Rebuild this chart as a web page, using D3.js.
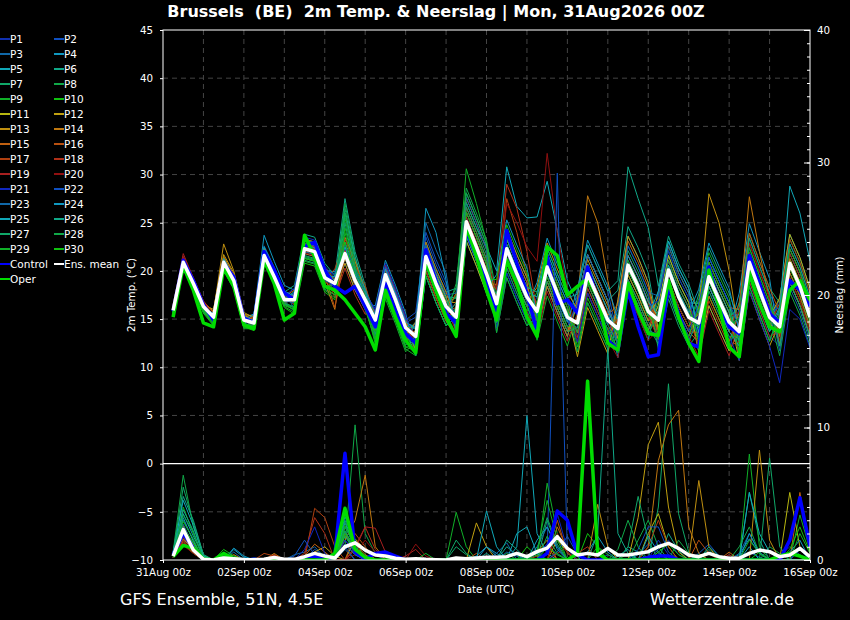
<!DOCTYPE html>
<html>
<head>
<meta charset="utf-8">
<script src="https://cdn.jsdelivr.net/npm/d3@7"></script>
<style>
  body { margin: 0; background: #000; }
  text { font-family: "DejaVu Sans", sans-serif; fill: #fff; }
</style>
</head>
<body>
<div id="chart"></div>
<script>
// ---- data (6-hourly, 31Aug 06z .. 16Sep 00z, 64 steps) ----
const memberNames = d3.range(1, 31).map(i => "P" + i);
const memberColors = [
  "#1030b0","#1050c0","#1068a8","#1098c0","#10a8b8","#10a888","#10a868","#10a848","#10b028","#10c010",
  "#b8b810","#c0a010","#c09010","#c07810","#c06010","#b85010","#b04010","#b03018","#a82020","#901010",
  "#1028c0","#1050c0","#1068a8","#1098c0","#10a8b8","#10a888","#10a868","#10a848","#10b028","#10c010"
];

const meanTemp = [15.9,20.9,18.7,16.3, 15.2,20.9,19.0,14.9, 14.6,21.6,19.4,17.0, 17.0,22.3,22.0,19.3, 18.7,21.8,19.0,17.0, 14.9,19.6,17.0,14.1, 13.2,21.5,18.7,16.3, 15.2,25.1,22.5,19.7, 16.6,22.3,19.7,17.3, 15.8,20.4,17.7,15.2, 14.6,19.7,17.3,14.9, 14.0,20.6,18.4,15.8, 14.9,20.1,17.3,15.2, 14.6,19.4,17.0,14.7, 13.7,20.9,18.0,15.2, 14.2,20.8,18.4,15.2];
const controlTemp = [15.8,21.1,19.0,16.5, 14.9,20.8,19.4,15.1, 14.6,22.0,20.1,17.7, 17.0,22.5,23.0,20.1, 18.4,17.7,18.4,16.3, 14.2,18.7,15.9,13.5, 12.5,22.2,19.0,15.6, 14.6,24.2,21.5,19.0, 15.9,24.2,20.8,17.7, 13.7,21.5,16.6,17.0, 15.6,20.4,17.0,12.8, 11.8,18.0,14.2,11.1, 11.3,18.4,15.6,12.5, 12.1,20.4,16.6,14.2, 13.5,21.6,18.7,15.6, 14.6,19.0,18.0,16.3];
const operTemp = [15.2,20.5,18.0,14.6, 14.2,20.3,18.4,14.4, 14.0,21.1,18.7,14.9, 15.6,23.7,21.5,18.4, 18.0,17.0,15.6,14.2, 11.8,18.0,15.2,12.8, 11.5,21.1,18.0,15.2, 13.2,24.6,21.5,18.0, 14.9,21.1,18.7,15.2, 13.2,22.5,21.6,17.5, 18.4,19.2,17.3,12.5, 11.8,18.7,15.9,13.5, 13.3,19.0,15.2,12.5, 10.6,20.1,16.3,12.1, 11.1,19.8,16.6,14.2, 13.7,18.0,19.0,17.0];

const memberTemp = [
  [16.1,21.1,18.9,16.5, 14.9,20.6,18.7,14.6, 15.1,22.1,19.9,17.5, 16.5,21.8,21.5,18.8, 19.5,22.6,19.8,17.8, 15.9,20.6,18.0,15.1, 12.2,20.5,17.7,15.3, 15.7,25.6,23.0,20.2, 14.6,20.3,17.7,15.3, 17.3,21.9,19.2,16.7, 13.1,18.2,15.8,13.4, 16.0,22.6,20.4,17.8, 12.4,17.6,14.8,12.7, 15.6,20.4,18.0,15.7, 11.7,18.9,16.0,13.2, 12.2,18.8,16.4,13.2],
  [15.6,20.6,18.4,16.0, 15.6,21.3,19.4,15.3, 14.0,21.0,18.8,16.4, 17.6,22.9,22.6,19.9, 17.7,20.8,18.0,16.0, 15.4,20.1,17.5,14.6, 15.2,23.5,20.7,18.3, 14.2,24.1,21.5,18.7, 18.1,23.8,21.2,18.8, 13.8,18.4,15.7,13.2, 17.6,22.7,20.3,17.9, 13.0,19.6,17.4,14.8, 15.9,21.1,18.3,16.2, 11.6,16.4,14.0,11.7, 16.2,23.4,20.5,17.7, 15.2,21.8,19.4,16.2],
  [16.3,21.3,19.1,16.7, 15.0,20.7,18.8,14.7, 15.6,22.6,20.4,18.0, 16.0,21.3,21.0,18.3, 18.7,21.8,19.0,17.0, 13.4,18.1,15.5,12.6, 14.7,25.0,22.2,19.8, 13.2,23.1,20.5,17.7, 18.6,24.3,21.7,19.3, 15.8,20.4,17.7,15.2, 11.6,16.7,14.3,11.9, 17.0,23.6,21.4,18.8, 12.9,18.1,15.3,13.2, 16.6,21.4,19.0,16.7, 12.7,19.9,17.0,14.2, 17.2,23.8,21.4,18.2],
  [15.7,20.7,18.5,16.1, 15.5,21.2,19.3,15.2, 15.5,23.7,21.0,18.5, 18.0,23.3,23.0,20.3, 18.2,21.3,18.5,16.5, 16.4,21.1,18.5,15.6, 11.2,19.5,16.7,14.3, 16.2,26.1,23.5,20.7, 15.6,21.3,18.7,16.3, 18.8,23.4,20.7,18.2, 15.6,20.7,18.3,15.9, 11.0,17.6,15.4,12.8, 17.9,23.1,20.3,18.2, 13.6,18.4,16.0,13.7, 17.7,24.9,22.0,19.2, 12.2,18.8,16.4,13.2],
  [15.8,20.8,18.6,16.2, 15.5,21.2,19.3,15.2, 14.1,21.1,18.9,16.5, 17.8,23.1,22.8,20.1, 19.9,23.0,20.2,18.2, 15.4,20.1,17.5,14.6, 14.2,22.5,19.7,17.3, 17.2,27.1,24.5,22.5, 20.0,30.8,26.7,25.5, 25.6,29.3,24.2,19.0, 16.6,21.7,19.3,16.9, 12.5,19.1,16.9,14.3, 16.4,21.6,18.8,16.7, 16.6,21.4,19.0,16.7, 11.2,18.4,15.5,12.7, 15.7,22.3,19.9,16.7],
  [16.2,21.2,19.0,16.6, 14.8,20.5,18.6,14.5, 15.4,22.4,20.2,17.8, 18.5,23.8,23.5,20.8, 19.5,27.5,22.0,18.5, 14.4,19.1,16.5,13.6, 14.7,23.0,20.2,17.8, 18.2,28.1,25.5,22.7, 15.6,21.3,18.7,16.3, 13.8,18.4,15.7,13.2, 16.6,21.7,19.3,16.9, 18.0,24.6,22.4,19.8, 13.9,19.1,16.3,14.2, 17.6,22.4,20.0,17.7, 14.7,21.9,19.0,16.2, 13.2,19.8,17.4,14.2],
  [15.5,20.5,18.3,15.9, 14.6,20.3,18.4,14.3, 14.3,21.3,19.1,16.7, 15.8,21.1,20.8,18.1, 17.5,26.5,21.0,17.5, 13.4,18.1,15.5,12.6, 13.7,22.0,19.2,16.8, 17.2,27.1,24.5,21.7, 14.1,19.8,17.2,14.8, 16.8,21.4,18.7,16.2, 12.6,17.7,15.3,12.9, 15.5,22.1,19.9,17.3, 11.9,17.1,14.3,12.2, 13.6,18.4,16.0,13.7, 16.7,23.9,21.0,18.2, 16.7,23.3,20.9,17.7],
  [15.3,20.3,18.1,15.7, 14.4,20.1,18.2,14.1, 14.1,21.1,18.9,16.5, 16.2,21.5,21.2,18.5, 18.0,27.0,21.5,17.0, 12.9,17.6,15.0,12.1, 12.2,20.5,17.7,15.3, 18.7,28.6,26.0,23.2, 17.6,23.3,20.7,18.3, 14.8,19.4,16.7,14.2, 13.6,18.7,16.3,13.9, 12.0,18.6,16.4,13.8, 16.9,22.1,19.3,17.2, 12.6,17.4,15.0,12.7, 13.7,20.9,18.0,15.2, 11.2,17.8,15.4,12.2],
  [15.2,20.2,18.0,15.6, 14.3,20.0,18.1,14.0, 14.0,21.0,18.8,16.4, 16.0,21.3,21.0,18.3, 18.2,25.5,20.5,16.5, 12.4,17.1,14.5,11.6, 12.7,21.0,18.2,15.8, 17.5,30.6,27.0,23.0, 16.6,22.3,19.7,17.3, 12.8,17.4,14.7,12.2, 15.6,20.7,18.3,15.9, 14.0,20.6,18.4,15.8, 13.9,19.1,16.3,14.2, 17.1,21.9,19.5,17.2, 12.2,19.4,16.5,13.7, 15.2,21.8,19.4,16.2],
  [15.4,20.4,18.2,15.8, 14.5,20.2,18.3,14.2, 13.8,20.8,18.6,16.2, 15.5,20.8,20.5,17.8, 17.0,24.5,20.0,16.0, 12.9,17.6,15.0,12.1, 11.7,20.0,17.2,14.8, 16.2,26.1,23.5,20.7, 15.1,20.8,18.2,15.8, 17.8,22.4,19.7,17.2, 12.1,17.2,14.8,12.4, 13.0,19.6,17.4,14.8, 15.4,20.6,17.8,15.7, 12.6,17.4,15.0,12.7, 14.7,21.9,19.0,16.2, 13.2,19.8,17.4,14.2],
  [16.2,21.2,19.0,16.6, 15.7,21.4,19.5,15.4, 14.8,21.8,19.6,17.2, 17.5,22.8,22.5,19.8, 19.0,22.1,19.3,17.3, 15.7,20.4,17.8,14.9, 11.7,20.0,17.2,14.8, 13.2,23.1,20.5,17.7, 17.6,23.3,20.7,18.3, 14.3,18.9,16.2,13.7, 16.6,21.7,19.3,16.9, 12.0,18.6,16.4,13.8, 16.4,21.6,18.8,16.7, 11.6,16.4,14.0,11.7, 13.7,20.9,18.0,15.2, 17.2,23.8,21.4,18.2],
  [16.1,21.1,18.9,16.5, 16.0,21.7,19.8,15.7, 15.1,22.1,19.9,17.5, 16.7,22.0,21.7,19.0, 17.7,20.8,18.0,16.0, 14.9,19.6,17.0,14.1, 14.2,22.5,19.7,17.3, 14.2,24.1,21.5,18.7, 18.6,24.3,21.7,19.3, 16.3,20.9,18.2,15.7, 11.1,16.2,13.8,11.4, 17.0,23.6,21.4,18.8, 13.9,19.1,16.3,14.2, 15.6,20.4,18.0,15.7, 10.7,17.9,15.0,12.2, 14.7,21.3,18.9,15.7],
  [16.4,21.4,19.2,16.8, 15.8,22.8,20.0,15.5, 15.3,22.3,20.1,17.7, 17.3,22.6,22.3,19.6, 18.2,21.3,18.5,16.5, 14.4,19.1,16.5,13.6, 13.7,22.0,19.2,16.8, 16.7,26.6,24.0,21.2, 16.1,21.8,19.2,16.8, 18.3,22.9,20.2,17.7, 16.1,21.2,18.8,16.4, 13.0,19.6,17.4,14.8, 17.4,22.6,19.8,17.7, 16.0,28.0,25.0,20.0, 13.2,20.4,17.5,14.7, 12.7,19.3,16.9,13.7],
  [16.3,21.3,19.1,16.7, 15.8,21.5,19.6,15.5, 14.9,21.9,19.7,17.3, 16.5,21.8,21.5,18.8, 16.0,23.5,21.0,18.0, 13.9,18.6,16.0,13.1, 14.7,23.0,20.2,17.8, 14.7,24.6,22.0,19.2, 18.1,23.8,21.2,18.8, 13.8,18.4,15.7,13.2, 17.0,27.8,25.0,19.0, 14.0,20.6,18.4,15.8, 12.9,18.1,15.3,13.2, 16.1,20.9,18.5,16.2, 16.0,27.7,22.0,17.0, 12.2,18.8,16.4,13.2],
  [16.0,21.0,18.8,16.4, 15.4,21.1,19.2,15.1, 15.0,22.0,19.8,17.4, 18.0,23.3,23.0,20.3, 19.2,22.3,19.5,17.5, 13.9,18.6,16.0,13.1, 12.7,21.0,18.2,15.8, 17.7,27.6,25.0,22.2, 16.6,22.3,19.7,17.3, 14.3,18.9,16.2,13.7, 15.1,20.2,17.8,15.4, 16.5,23.1,20.9,18.3, 13.4,18.6,15.8,13.7, 12.6,17.4,15.0,12.7, 15.7,22.9,20.0,17.2, 13.2,19.8,17.4,14.2],
  [15.8,20.8,18.6,16.2, 15.3,21.0,19.1,15.0, 14.4,21.4,19.2,16.8, 17.2,22.5,22.2,19.5, 16.2,21.5,18.5,16.5, 15.4,20.1,17.5,14.6, 12.7,21.0,18.2,15.8, 16.2,26.1,23.5,20.7, 15.6,21.3,18.7,16.3, 16.8,21.4,18.7,16.2, 13.6,18.7,16.3,13.9, 15.0,21.6,19.4,16.8, 13.4,18.6,15.8,13.7, 13.6,18.4,16.0,13.7, 16.7,23.9,21.0,18.2, 15.7,22.3,19.9,16.7],
  [16.2,21.2,19.0,16.6, 15.4,21.1,19.2,15.1, 15.2,22.2,20.0,17.6, 16.8,22.1,21.8,19.1, 20.2,23.3,20.5,18.5, 15.1,19.8,17.2,14.3, 12.2,20.5,17.7,15.3, 15.7,25.6,23.0,20.2, 17.0,27.5,24.0,19.5, 14.8,19.4,16.7,14.2, 13.1,18.2,15.8,13.4, 15.0,21.6,19.4,16.8, 14.9,20.1,17.3,15.2, 12.1,16.9,14.5,12.2, 12.7,19.9,17.0,14.2, 16.7,23.3,20.9,17.7],
  [16.5,21.5,19.3,16.9, 15.6,21.3,19.4,15.3, 14.7,21.7,19.5,17.1, 17.5,22.8,22.5,19.8, 17.2,20.3,17.5,15.5, 15.9,20.6,18.0,15.1, 13.2,21.5,18.7,16.3, 13.7,23.6,21.0,18.2, 18.5,29.0,26.5,22.0, 15.8,20.4,17.7,15.2, 14.6,19.7,17.3,14.9, 12.5,19.1,16.9,14.3, 15.9,21.1,18.3,16.2, 14.6,19.4,17.0,14.7, 11.7,18.9,16.0,13.2, 13.7,20.3,17.9,14.7],
  [16.3,21.8,19.3,16.8, 15.2,20.9,19.0,14.9, 14.2,21.2,19.0,16.6, 17.3,22.6,22.3,19.6, 19.2,22.3,19.5,17.5, 14.1,18.8,16.2,13.3, 11.7,20.0,17.2,14.8, 15.2,25.1,22.5,19.7, 15.1,20.8,18.2,15.8, 13.3,17.9,15.2,12.7, 15.6,20.7,18.3,15.9, 13.5,20.1,17.9,15.3, 12.9,18.1,15.3,13.2, 11.1,15.9,13.5,11.2, 14.7,21.9,19.0,16.2, 15.2,21.8,19.4,16.2],
  [16.4,21.4,19.2,16.8, 15.1,20.8,18.9,14.8, 14.8,21.8,19.6,17.2, 16.6,21.9,21.6,18.9, 18.7,21.8,19.0,17.0, 15.2,19.9,17.3,14.4, 12.4,20.7,17.9,15.5, 16.7,26.6,24.0,21.2, 18.0,27.0,25.0,22.5, 21.0,32.2,24.0,18.0, 12.6,17.7,15.3,12.9, 11.0,17.6,15.4,12.8, 13.9,19.1,16.3,14.2, 15.1,19.9,17.5,15.2, 15.7,22.9,20.0,17.2, 12.7,19.3,16.9,13.7],
  [15.8,20.8,18.6,16.2, 15.0,20.7,18.8,14.7, 15.0,22.0,19.8,17.4, 18.2,23.5,23.2,20.5, 19.3,22.4,19.6,17.6, 16.1,20.8,18.2,15.3, 12.7,21.0,18.2,15.8, 14.2,24.1,21.5,18.7, 14.1,19.8,17.2,14.8, 15.8,20.4,17.7,15.2, 12.6,17.7,15.3,12.9, 14.5,21.1,18.9,16.3, 16.9,22.1,19.3,17.2, 13.1,17.9,15.5,13.2, 10.7,17.9,15.0,12.2, 8.4,16.0,15.0,12.0],
  [16.0,21.0,18.8,16.4, 15.4,21.1,19.2,15.1, 14.4,21.4,19.2,16.8, 17.8,23.1,22.8,20.1, 19.7,22.8,20.0,18.0, 15.7,20.4,17.8,14.9, 15.7,24.0,21.2,18.8, 14.7,24.6,22.0,19.2, 16.1,21.8,19.2,16.8, 14.8,19.4,16.7,14.2, 16.6,21.7,19.3,16.9, 12.0,18.6,16.4,13.8, 13.4,18.6,15.8,13.7, 16.6,21.4,19.0,16.7, 14.2,21.4,18.5,15.7, 16.2,22.8,20.4,17.2],
  [15.9,20.9,18.7,16.3, 15.3,21.0,19.1,15.0, 14.5,21.5,19.3,16.9, 16.7,22.0,21.7,19.0, 18.5,21.6,18.8,16.8, 13.7,18.4,15.8,12.9, 14.4,22.7,19.9,17.5, 17.7,27.6,25.0,22.2, 13.6,19.3,16.7,14.3, 15.3,19.9,17.2,14.7, 14.1,19.2,16.8,14.4, 16.0,22.6,20.4,17.8, 17.4,22.6,19.8,17.7, 14.1,18.9,16.5,14.2, 15.2,22.4,19.5,16.7, 11.7,18.3,15.9,12.7],
  [16.1,21.1,18.9,16.5, 15.1,20.8,18.9,14.8, 15.5,22.5,20.3,17.9, 17.4,22.7,22.4,19.7, 18.4,21.5,18.7,16.7, 15.5,20.2,17.6,14.7, 14.0,26.5,24.0,19.0, 13.7,23.6,21.0,18.2, 19.6,25.3,22.7,20.3, 15.3,19.9,17.2,14.7, 18.1,23.2,20.8,18.4, 15.0,21.6,19.4,16.8, 15.4,20.6,17.8,15.7, 18.1,22.9,20.5,18.2, 13.7,20.9,18.0,15.2, 14.2,20.8,18.4,15.2],
  [15.7,20.7,18.5,16.1, 15.6,21.3,19.4,15.3, 14.8,21.8,19.6,17.2, 17.1,22.4,22.1,19.4, 19.4,22.5,19.7,17.7, 14.6,19.3,16.7,13.8, 11.2,19.5,16.7,14.3, 15.2,25.1,22.5,19.7, 17.1,22.8,20.2,17.8, 17.3,21.9,19.2,16.7, 15.6,20.7,18.3,15.9, 13.5,20.1,17.9,15.3, 17.9,23.1,20.3,18.2, 13.6,18.4,16.0,13.7, 12.2,19.4,16.5,13.7, 16.0,28.8,26.0,21.0],
  [15.6,20.6,18.4,16.0, 14.7,20.4,18.5,14.4, 14.6,21.6,19.4,17.0, 17.9,23.2,22.9,20.2, 19.0,26.0,21.5,18.0, 15.1,19.8,17.2,14.3, 14.0,22.3,19.5,17.1, 14.7,24.6,22.0,19.2, 17.6,23.3,20.7,18.3, 17.8,22.4,19.7,17.2, 17.6,22.7,20.3,17.9, 19.0,30.8,27.5,24.5, 18.4,23.6,20.8,18.7, 15.6,20.4,18.0,15.7, 12.7,19.9,17.0,14.2, 16.2,22.8,20.4,17.2],
  [15.4,20.4,18.2,15.8, 14.9,20.6,18.7,14.6, 14.2,21.2,19.0,16.6, 16.3,21.6,21.3,18.6, 17.8,25.0,20.0,16.8, 13.9,18.6,16.0,13.1, 12.2,20.5,17.7,15.3, 16.7,26.6,24.0,21.2, 15.6,21.3,18.7,16.3, 14.3,18.9,16.2,13.7, 14.1,19.2,16.8,14.4, 12.5,19.1,16.9,14.3, 12.4,17.6,14.8,12.7, 15.1,19.9,17.5,15.2, 16.2,23.4,20.5,17.7, 12.2,18.8,16.4,13.2],
  [15.7,20.7,18.5,16.1, 14.7,20.4,18.5,14.4, 14.4,21.4,19.2,16.8, 16.1,21.4,21.1,18.4, 18.5,26.0,20.5,17.5, 13.1,17.8,15.2,12.3, 13.2,21.5,18.7,16.3, 18.2,28.1,25.5,22.7, 14.6,20.3,17.7,15.3, 16.3,20.9,18.2,15.7, 13.6,18.7,16.3,13.9, 11.5,18.1,15.9,13.3, 15.9,21.1,18.3,16.2, 13.1,17.9,15.5,13.2, 13.2,20.4,17.5,14.7, 14.2,20.8,18.4,15.2],
  [15.3,20.3,18.1,15.7, 14.6,20.3,18.4,14.3, 13.9,20.9,18.7,16.3, 15.7,21.0,20.7,18.0, 17.2,24.0,19.5,16.2, 12.7,17.4,14.8,11.9, 11.2,19.5,16.7,14.3, 16.2,26.1,23.5,20.7, 13.6,19.3,16.7,14.3, 16.8,21.4,18.7,16.2, 11.6,16.7,14.3,11.9, 14.5,21.1,18.9,16.3, 12.9,18.1,15.3,13.2, 16.1,20.9,18.5,16.2, 11.2,18.4,15.5,12.7, 15.7,22.3,19.9,16.7],
  [15.5,20.5,18.3,15.9, 14.7,20.4,18.5,14.4, 14.1,21.1,18.9,16.5, 16.0,21.3,21.0,18.3, 17.5,23.0,19.0,16.0, 13.7,18.4,15.8,12.9, 12.7,21.0,18.2,15.8, 14.7,24.6,22.0,19.2, 19.1,24.8,22.2,19.8, 14.8,19.4,16.7,14.2, 14.6,19.7,17.3,14.9, 13.5,20.1,17.9,15.3, 14.9,20.1,17.3,15.2, 14.1,18.9,16.5,14.2, 15.2,22.4,19.5,16.7, 13.7,20.3,17.9,14.7]
];

const meanPrecip = [0.3,2.3,0.75,0.05, 0,0.15,0.1,0.03, 0.02,0.05,0.2,0.05, 0.05,0.25,0.5,0.3, 0.15,1.0,1.3,0.75, 0.38,0.3,0.13,0.05, 0.1,0.05,0.02,0, 0.15,0.1,0.15,0.2, 0.2,0.25,0.5,0.25, 0.63,0.9,1.76,0.88, 0.38,0.5,0.38,0.88, 0.38,0.38,0.5,0.63, 1.0,1.26,0.88,0.38, 0.25,0.5,0.25,0.13, 0.13,0.5,0.75,0.63, 0.25,0.38,0.88,0.25];
const controlPrecip = [0.4,2.0,0.9,0.05, 0,0.1,0,0, 0,0,0,0, 0,0.2,0.3,0, 0.3,8.05,0.6,0.1, 0.5,0.6,0.3,0, 0,0,0,0, 0,0,0,0, 0,0,0,0, 0,0.5,3.7,3.0, 0.4,0,0,0, 0,0,0,0.2, 0.3,0.3,0,0, 0,0,0,0, 0,0,0,0, 0,1.5,4.7,1.0];
const operPrecip = [0.25,1.1,0.9,0.1, 0,0.5,0.1,0, 0,0,0,0, 0,0,0,0, 0.5,3.9,0.8,0.2, 0,0,0,0, 0,0,0,0, 0,0,0,0, 0,0,0,0, 0,0,0,0, 0.5,13.5,0.5,0, 0,0,0,0, 0,0,0,0, 0,0,0,0, 0,0,0,0, 0.3,0.5,0.3,0];

const memberPrecip = [
  [0.4,2.0,0.8,0.1, 0,0,0,0, 0.2,0,0,0, 0,0,0,0, 0.3,1.5,0.6,0.2, 0,0,0,0, 0,0,0,0, 0,0,0,0, 0,0,0,0, 0.5,1.2,0.4,0, 0,0,0,0, 0,0,0,0, 0.8,1.5,0.4,0, 0,0,0,0, 0,0,0,0, 0.3,1.0,0.4,0],
  [0.3,1.5,1.0,0.2, 0,0,0,0, 0,0,0,0, 0,0,0.8,0.3, 0,2.0,0.5,0, 0,0,0,0, 0,0,0,0, 0,0,0,0, 0,0,0,0, 0,0.5,29.2,0.5, 0,0,0,0.4, 0,0,0,0, 0,0,0,0, 0.5,1.2,0.3,0, 0,0,0,0, 0,0,0,0],
  [0.5,2.5,1.2,0, 0,0.4,0.3,0, 0,0,0,0, 0.4,0.6,1.0,0.2, 0,0.8,0,0, 0,0,0,0, 0,0,0,0, 0,0,0,0, 0,0.6,0.3,0, 0,0,0,0, 0,0,0,0, 0,0,0.4,1.2, 0.5,0,0,0, 0,0,0,0, 0,0.6,0.2,0, 0,0,0,0],
  [0.2,1.8,0.6,0, 0,0,0.8,0.2, 0,0,0,0, 0,0,0,0, 0,1.2,0.4,0, 0,0,0,0, 0,0,0,0, 0,0,0.3,1.0, 0.5,0,0,0, 0,0,0,0, 0,0.6,1.8,0.6, 0,0,0,0, 0,0,0,0, 0,0,0,0, 0.4,1.6,0.5,0, 0,0,0.8,0],
  [0.6,3.5,1.8,0.3, 0,0,0,0, 0,0,0,0, 0,0,0,0, 0,2.5,1.0,0.3, 0,0,0,0, 0,0,0,0, 0,0,0,0, 0,0,1.0,10.9, 2.0,0.5,0,0, 0,0,0,0, 0.3,0.8,0,0, 0,0,0,0, 0,0,0,0, 0,1.0,0,0, 0,0,0,0],
  [0.4,4.8,3.0,0.4, 0,0,0,0, 0,0,0,0, 0,0,0,0, 0,3.0,0.8,0, 0,0,0,0, 0,0,0,0, 0,0,0,0.5, 0,1.0,0.4,0, 0,0,0,0, 0,0,0,0, 0,1.0,0.6,0, 0,2.0,0.7,0, 0,0,0,0, 0,5.1,1.5,0, 0,0,0,0],
  [0.5,3.0,1.5,0, 0,0,0,0, 0,0,0,0, 0,0,0,0, 0.5,2.0,1.2,0, 0,0,0,0, 0,0,0,0, 1.0,0.4,0,0, 0,0,0,0, 0,3.0,1.0,0, 0,0,0,0, 0,0,0,0, 4.0,13.3,3.5,0.6, 0,0.8,0,0, 0,0,0,0, 0,0,0,0],
  [0.6,6.4,2.5,0.3, 0,0,0,0, 0,0,0,0, 0,0,0,0, 0,1.0,10.2,2.0, 0.5,0,0,0, 0,0,0,0, 0,0,0,0, 0,0,0,0, 0.4,1.0,0,0, 0,0,0,0, 0,0,1.5,3.0, 1.0,0,0,0, 0,0,0,0, 0,0,0,1.0, 0.5,0,0,0],
  [0.3,4.0,2.0,0.2, 0,0,0,0, 0,0,0,0, 0,0,0,0, 0,2.5,1.5,0, 0,0,0,0, 0,0,0,0, 3.6,1.0,0,0, 0,0,0,0, 0,5.8,2.0,0, 0,0,0,0, 0,0.5,0,0, 0,0,0,0, 0.4,0,0,0, 0,8.0,1.0,0, 0,0,3.4,0.8],
  [0.4,2.2,1.0,0, 0,0.3,0,0, 0,0,0,0, 0,0,0,0, 0,1.8,0.6,0, 0,0,0,0, 0,0,0,0, 0,0,0,0, 0,0,0,1.0, 0.3,0,0,0, 0,2.0,1.0,0, 0,0,0,0, 0,0,0,0, 0,0,0,0, 0,0,0.6,0, 0,0,0,0],
  [0.3,1.2,0.5,0, 0,0,0,0, 0,0,0,0, 0,0,0,0, 0,0,1.6,0.8, 0,0,0,0, 0,0,0,0, 0,0,0,0, 0,0,0,0, 0,0,0,0, 0,0,0,0, 0,0,0,2.0, 3.5,1.0,0,0, 0,0,0,0, 0,0,0,0, 0,5.1,1.0,0],
  [0.4,1.6,0.8,0, 0,0,0,0, 0,0,0,0, 0,0,0.6,1.0, 0.3,0,0,0, 0,0,0,0, 0,0,0,0, 0,0,2.8,1.0, 0,0,0,0, 0,0,1.5,0.6, 0,0,0,0, 0,0,3.2,8.7, 10.4,4.0,0.6,0, 0,0,0,0, 0,0,0,0, 0,0,0,0],
  [0.2,2.6,1.2,0, 0,0,0.4,0, 0,0,0,0, 0,0,0,0, 0,1.0,1.2,0.4, 0,0,0,0, 0,0,0,0, 0,0,0,0, 0,0,0,0, 0,0,0,0, 0,0,4.2,1.0, 0,0,0,0, 0,0,0,0, 6.0,1.0,0,0, 0,0,8.3,1.5, 0,0,0,0],
  [0.3,2.0,0.9,0, 0,0,0,0, 0,0,0.5,0, 0,0,0,0, 0,1.5,3.0,6.4, 1.0,0,0,0, 0,0,0,0, 0,0,0,0, 0,0,0,0, 0.6,1.5,0,0, 0,0,0,0, 0,0,0,1.0, 7.5,10.2,11.3,2.5, 0.5,0,0,0, 0,0,0,0, 0,0,0,0],
  [0.2,1.4,0.6,0, 0,0,0,0, 0,0,0.4,0, 0,0.3,1.2,0.6, 0,2.0,0.8,0, 0,0,0,0, 0,0,0,0, 0,0,0,0, 0,0,0,0, 0,0,2.5,0.8, 0,0,0,0, 0,0,0,0, 0,0,0,0, 0,0,0,0.6, 0,0,0,0, 0,0,5.1,0.5],
  [0.3,1.8,0.7,0, 0,0,0,0, 0,0,0,0, 0,0,0,0, 0,0,2.0,1.0, 0,0,0,0, 0,0,0,0, 0,0,0.5,0, 0,0,0,0, 0,0.5,3.0,0.5, 0,0,0,0, 0,0,0,0, 0,0,0,0, 1.5,0.5,0,0, 0,0,0,0, 0,0,0,0],
  [0.4,1.7,0.8,0, 0,0,0,0, 0,0.5,0.3,0, 0,0,3.9,3.2, 1.0,0,0.8,0, 0,0,0,0, 0,0,0,0, 0,0,0,0, 0,0,0,0, 0.3,1.0,0,0, 0,0,0,0, 0,0,0,1.0, 3.0,1.0,0,0, 0,0,0,0, 0,0,0,0, 0,0,0,0],
  [0.3,1.3,0.7,0, 0,0,0,0, 0,0,0.4,0, 0,0.5,3.2,2.0, 0,0,1.0,2.5, 0.8,0,0,0, 0,0,0,0, 0,0,0,0, 0,0,0,0, 0,0,0,0, 0.5,1.0,0,0, 0,0,0,0, 0,0,0,0, 0,0,0,0, 0,0,0,0, 0,0,0,0],
  [0.2,1.5,0.6,0, 0,0,0,0, 0,0,0,0, 0,0,0,0, 0,0,0.8,2.5, 2.4,0.6,0,0.3, 0.8,0,0,0, 0,0,0,0, 0,0,0,0, 0,0,0.5,1.0, 0,0,0,0, 0,0,0,0, 0,0,0,0, 0,0,0,0.4, 0,0,0,0, 0,0,0,0],
  [0.3,1.1,0.5,0, 0,0,0,0, 0,0,0,0, 0,0,0,0, 0,0,0.4,1.5, 0.6,0,0,0, 1.2,0.3,0,0, 0,0,0,0, 0,0,0,0, 0,0,2.0,0.6, 0,0,0,0, 0,0,0,0, 0,0,0,0, 0,0,0,0, 0,0,0,0, 0,0,0,0],
  [0.3,1.9,0.9,0, 0,0,0,0, 0,0,0,0, 0,0.8,2.5,0.5, 0,1.5,0.5,0, 0.4,0,0,0, 0,0,0,0, 0,0,0,0, 0,0,0,0, 0,1.2,3.5,0.8, 0,0,0,0, 0,0,0,0, 1.5,0.4,0,0, 0,0,0,0, 0,0,0,0, 0,0,1.0,0],
  [0.4,2.2,1.0,0, 0,0,0,0, 0,0,0,0, 0.3,1.5,0.4,0, 0,1.0,0,0, 0,0,0,0, 0,0,0,0, 0,0,0,0, 0,0,0,0, 0,0,0.6,1.8, 0.4,0,0,0, 0,0,0.8,2.5, 2.5,0.6,0,0, 0,0,0,0, 0,0,0,0, 0,0,0,0],
  [0.5,2.7,1.1,0, 0,0,0.6,0, 0,0,0,0, 0,0,0,0, 0,1.2,0.4,0, 0,0,0,0, 0,0,0,0, 0,0,0,0, 0.5,1.3,0,0, 1.0,2.5,1.0,0, 0,0,0,0, 0,0,0,0, 0,0,0,0, 0,0,0,0, 0.5,2.0,0.6,0, 0,0,0,0],
  [0.4,3.2,1.4,0, 0,0,0.9,0.3, 0,0,0,0, 0,0,0,0, 0,2.2,0.6,0, 0,0,0,0, 0,0,0,0, 0,0,0,1.0, 0.3,0,0,0, 1.5,2.5,0.8,0, 0,0,0,0, 0,0,0,1.8, 0.6,0,0,0, 0,0,0,0, 0,2.0,0.5,0, 0,0.6,1.5,0],
  [0.6,4.5,2.6,0.3, 0,0,0,0, 0,0,0,0, 0,0,0,0, 0,3.3,1.0,0, 0,0,0,0, 0,0,0,0, 0,0,0,3.7, 1.0,0,2.0,2.5, 0.5,0,0,0, 0,0,0,0, 0,0,0,0, 0,0,0,0, 0,0,0,0, 0,5.1,2.0,0.6, 0,0,0,0],
  [0.5,3.8,2.2,0, 0,0,0,0, 0,0,0,0, 0,0,0,0, 0,2.8,0.9,0, 0,0,0,0, 0,0,0,0, 0,0,0,0, 0,1.5,0.8,0, 0,0,0,0, 0,0,2.0,16.0, 2.0,0.5,0,0, 0,0,0,0, 0,1.0,0.3,0, 0,0,0,0, 0,0,0,0],
  [0.5,5.5,2.8,0.4, 0,0,0,0, 0,0,0,0, 0,0,0,0, 0,1.8,0.7,0, 0,0,0,0, 0,0,0,0, 1.5,0.5,0,0, 0,0,0,0, 0.8,3.2,1.2,0, 0,0,0,0, 0,1.0,4.8,1.5, 0,0,0,0, 0,0,0,0, 0,0,0,7.7, 1.0,0,0,0],
  [0.4,3.4,2.1,0, 0,0,0,0, 0,0,0,0, 0,0,0,0, 0,2.2,0.8,0, 0,0,0,0, 0,0,0,0, 0,0,0,0, 0,0.5,0,0, 0,1.8,0.5,0, 0,0,0,0, 0.8,3.0,1.0,0, 0,0,1.5,0.5, 0,0,0,0, 1.0,2.5,0.5,0, 0,0,0,0],
  [0.3,2.9,1.6,0, 0,0.3,0,0, 0,0,0,0, 0,0,0,0, 0,2.6,1.0,0, 0,0,0,0, 0,0.5,0,0, 0,0,0,0, 0,0,0,0, 0.6,4.5,1.5,0, 0,0,1.0,0.4, 0,0,0,0, 0,0,0,0, 0,0,0,0, 0,1.5,0.5,0, 0,0,2.0,0.5],
  [0.4,2.4,1.3,0, 0,0.8,0.3,0, 0,0,0,0, 0,0,0,0, 0,2.0,0.9,0, 0,0,0,0, 0,0,0,0, 0,0,0,0, 0,0,0,0, 0,1.0,0.4,0, 0,0,0,0, 0,0,0,0, 0.6,1.2,0.4,0, 0,0,0,0, 0,0,0,0, 0,0.8,2.5,0.6]
];

const tempTicks = d3.range(-10, 46, 5);
const precipMajor = [0, 10, 20, 30, 40];

// ---- layout ----
const W = 850, H = 620;
const plot = {left: 163, right: 810, top: 30, bottom: 560};

const svg = d3.select("#chart").append("svg")
    .attr("width", W).attr("height", H)
    .style("background", "#000");

const start = new Date(Date.UTC(2026, 7, 31, 0));
const end = new Date(Date.UTC(2026, 8, 16, 0));
const times = d3.range(meanTemp.length).map(i => d3.utcHour.offset(start, 6 * (i + 1)));
const dateTicks = d3.range(0, 17, 2).map(k => d3.utcDay.offset(start, k));

const x = d3.scaleUtc().domain([start, end]).range([plot.left, plot.right]);
const yT = d3.scaleLinear().domain([-10, 45]).range([plot.bottom, plot.top]);
const yP = d3.scaleLinear().domain([0, 40]).range([plot.bottom, plot.top]);

svg.append("defs").append("clipPath").attr("id", "clip")
  .append("rect")
    .attr("x", plot.left).attr("y", plot.top - 1)
    .attr("width", plot.right - plot.left).attr("height", plot.bottom - plot.top + 1);

// grid
const grid = svg.append("g");
grid.selectAll(".hg")
  .data(tempTicks.filter(v => v > -10 && v < 45 && v !== 0))
  .join("line")
    .attr("x1", plot.left).attr("x2", plot.right)
    .attr("y1", d => yT(d)).attr("y2", d => yT(d))
    .attr("stroke", "#444").attr("stroke-dasharray", "5,4");
grid.selectAll(".vg")
  .data(d3.utcDay.range(d3.utcDay.offset(start, 1), end))
  .join("line")
    .attr("x1", d => x(d)).attr("x2", d => x(d))
    .attr("y1", plot.top).attr("y2", plot.bottom)
    .attr("stroke", "#444").attr("stroke-dasharray", "5,4");

// zero line
svg.append("line")
  .attr("x1", plot.left).attr("x2", plot.right)
  .attr("y1", yT(0)).attr("y2", yT(0))
  .attr("stroke", "#fff").attr("stroke-width", 1.3);

const lineT = d3.line().x((d, i) => x(times[i])).y(d => yT(d));
const lineP = d3.line().x((d, i) => x(times[i])).y(d => yP(d));

const lines = svg.append("g").attr("clip-path", "url(#clip)");

// members
lines.selectAll(".mt")
  .data(memberTemp)
  .join("path")
    .attr("d", lineT)
    .attr("fill", "none")
    .attr("stroke", (d, i) => memberColors[i])
    .attr("stroke-width", 1);
lines.selectAll(".mp")
  .data(memberPrecip)
  .join("path")
    .attr("d", lineP)
    .attr("fill", "none")
    .attr("stroke", (d, i) => memberColors[i])
    .attr("stroke-width", 1);

// control, oper, mean
const thick = [
  {t: controlTemp, p: controlPrecip, c: "#0000ff"},
  {t: operTemp, p: operPrecip, c: "#00dd00"},
  {t: meanTemp, p: meanPrecip, c: "#ffffff"}
];
thick.forEach(s => {
  lines.append("path").attr("d", lineT(s.t)).attr("fill", "none")
    .attr("stroke", s.c).attr("stroke-width", 3.5).attr("stroke-linejoin", "round");
  lines.append("path").attr("d", lineP(s.p)).attr("fill", "none")
    .attr("stroke", s.c).attr("stroke-width", 3.5).attr("stroke-linejoin", "round");
});

// frame
svg.append("rect")
  .attr("x", plot.left).attr("y", plot.top)
  .attr("width", plot.right - plot.left).attr("height", plot.bottom - plot.top)
  .attr("fill", "none").attr("stroke", "#fff").attr("stroke-width", 1);

// axes
function styleAxis(g) {
  g.select(".domain").remove();
  g.selectAll("line").attr("stroke", "#fff");
  g.selectAll("text").attr("fill", "#fff").style("font-size", "10.3px")
    .style("font-family", "DejaVu Sans, sans-serif");
}
svg.append("g")
  .attr("transform", `translate(${plot.left},0)`)
  .call(d3.axisLeft(yT).tickValues(tempTicks).tickSize(3).tickPadding(7))
  .call(styleAxis);

svg.append("g")
  .attr("transform", `translate(${plot.right},0)`)
  .call(d3.axisRight(yP).tickValues(d3.range(0, 41)).tickSize(-3).tickFormat(""))
  .call(styleAxis);
svg.append("g")
  .attr("transform", `translate(${plot.right},0)`)
  .call(d3.axisRight(yP).tickValues(precipMajor).tickSize(-6).tickPadding(7))
  .call(styleAxis);

svg.append("g")
  .attr("transform", `translate(0,${plot.bottom})`)
  .call(d3.axisBottom(x).tickValues(dateTicks)
    .tickFormat(d3.utcFormat("%d%b %Hz")).tickSize(3).tickPadding(6))
  .call(styleAxis);

// axis titles
svg.append("text")
  .attr("transform", "translate(135,295) rotate(-90)")
  .attr("text-anchor", "middle").style("font-size", "10.3px")
  .text("2m Temp. (°C)");
svg.append("text")
  .attr("transform", "translate(843,295) rotate(-90)")
  .attr("text-anchor", "middle").style("font-size", "10.3px")
  .text("Neerslag (mm)");
svg.append("text")
  .attr("x", 486).attr("y", 593)
  .attr("text-anchor", "middle").style("font-size", "10.3px")
  .text("Date (UTC)");

// title & footer
svg.append("text")
  .attr("x", 436).attr("y", 17)
  .attr("text-anchor", "middle")
  .style("font-size", "16px").style("font-weight", "bold").style("white-space", "pre")
  .text("Brussels  (BE)  2m Temp. & Neerslag | Mon, 31Aug2026 00Z");
svg.append("text")
  .attr("x", 120).attr("y", 605)
  .style("font-size", "16px")
  .text("GFS Ensemble, 51N, 4.5E");
svg.append("text")
  .attr("x", 650).attr("y", 605)
  .style("font-size", "16px")
  .text("Wetterzentrale.de");

// legend
const legendItems = memberNames.map((n, i) => ({name: n, color: memberColors[i]}))
  .concat([{name: "Control", color: "#0000ff"}, {name: "Ens. mean", color: "#ffffff"}, {name: "Oper", color: "#00dd00"}]);
const legend = svg.append("g");
legendItems.forEach((d, i) => {
  const col = i % 2, row = Math.floor(i / 2);
  const lx = col === 0 ? 0 : 54;
  const ly = 39 + row * 15;
  legend.append("line")
    .attr("x1", lx).attr("x2", lx + 10).attr("y1", ly).attr("y2", ly)
    .attr("stroke", d.color).attr("stroke-width", 2);
  legend.append("text")
    .attr("x", lx + 10).attr("y", ly).attr("dy", "0.36em")
    .style("font-size", "10.5px")
    .text(d.name);
});
</script>
</body>
</html>
